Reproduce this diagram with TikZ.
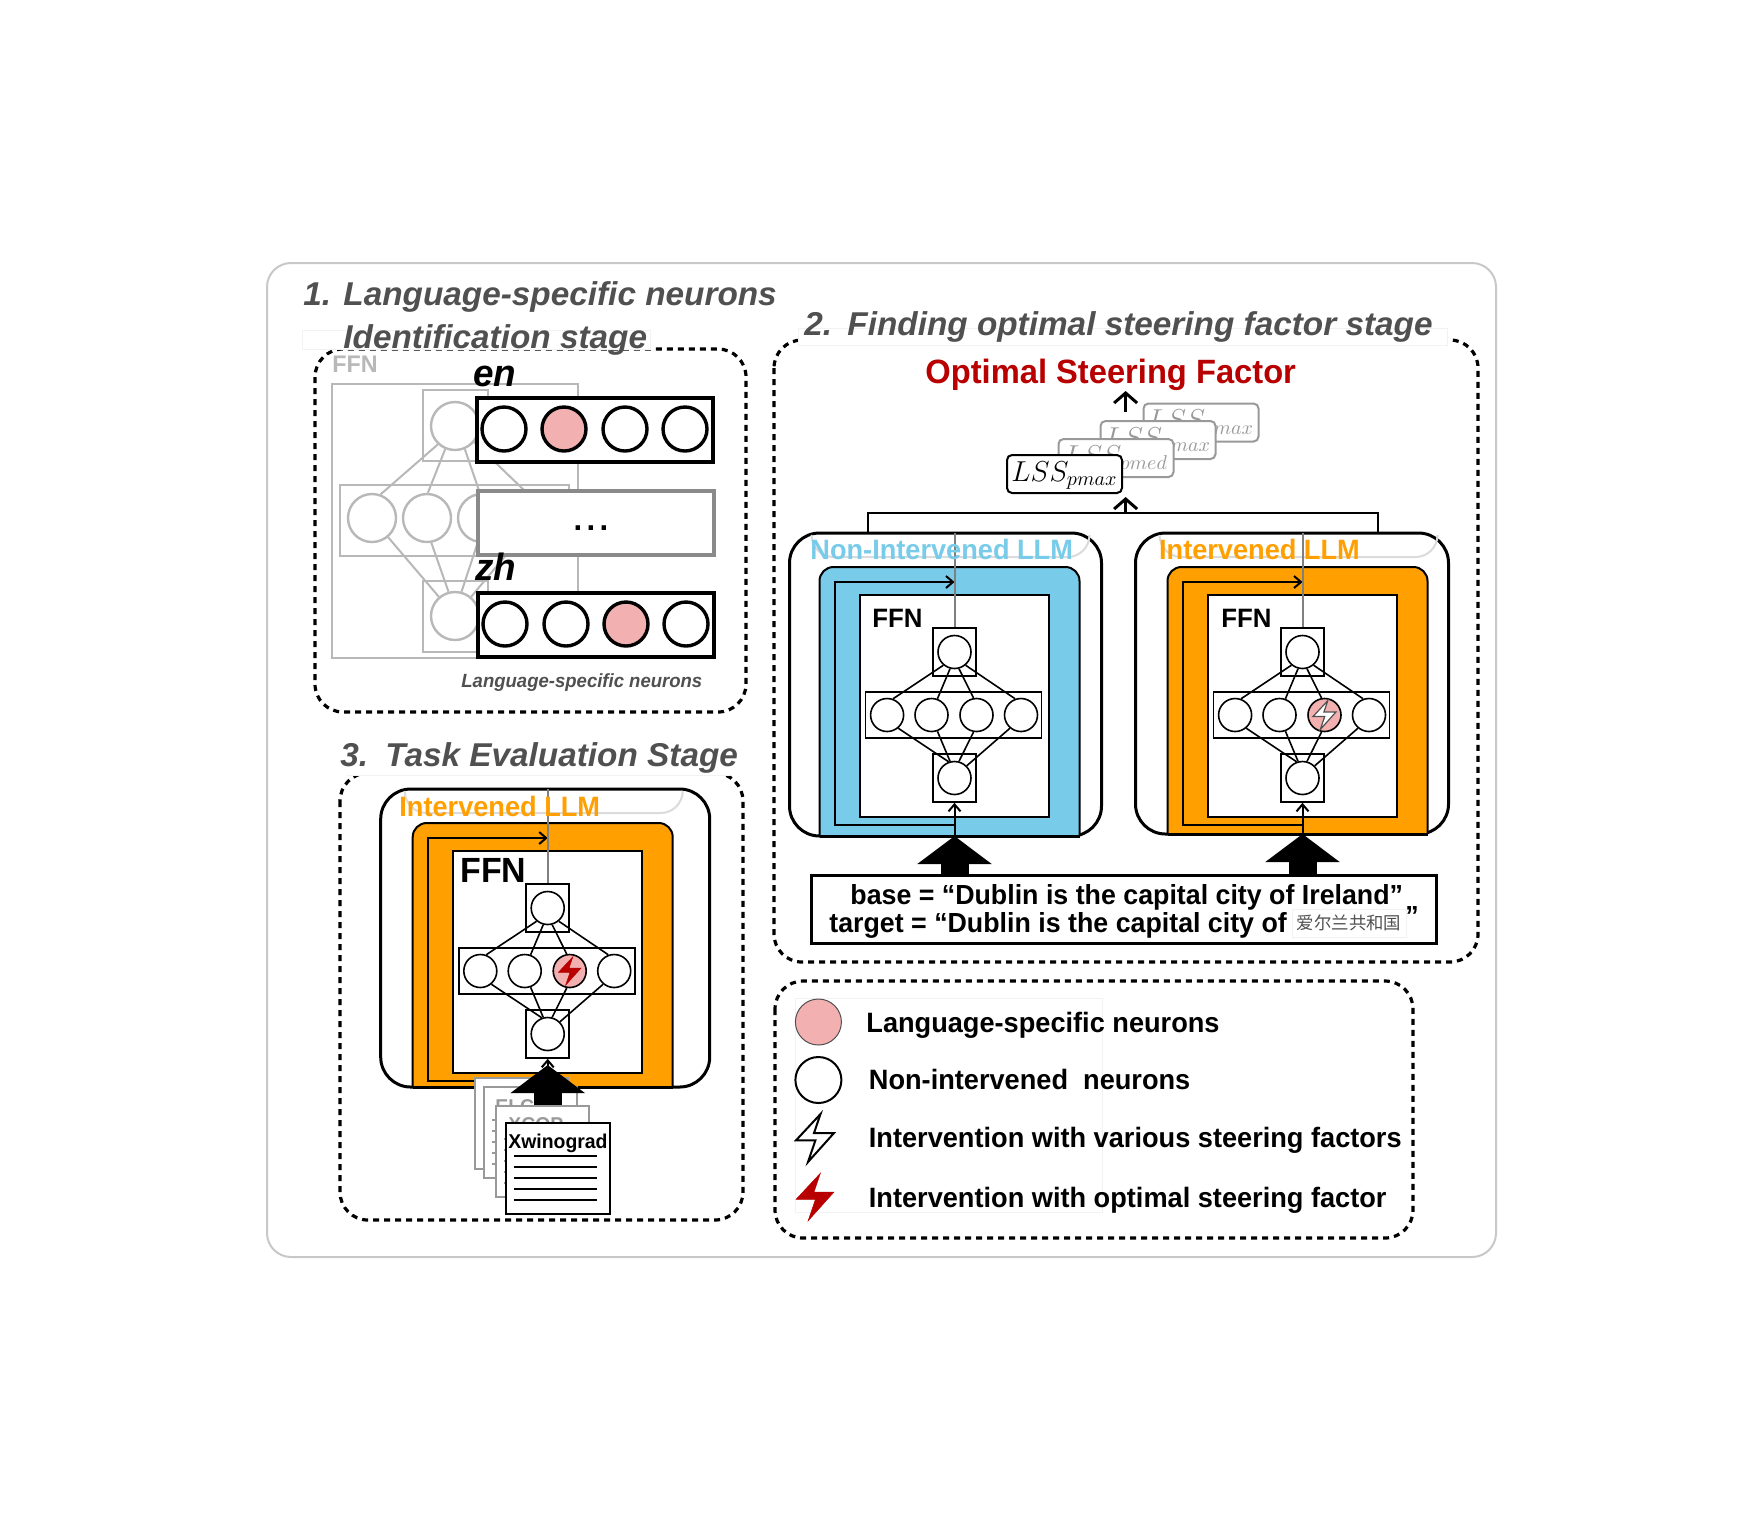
\documentclass[tikz,border=0pt]{standalone}
\usepackage{fontspec}
\setmainfont{Liberation Sans}[FakeStretch=0.97]
\newfontfamily\titleface{Liberation Sans}[FakeStretch=1.01]
\newfontfamily\cjkface{Noto Sans CJK SC}
\usepackage{tikz}
\usetikzlibrary{arrows.meta}

\definecolor{titlegray}{HTML}{505050}
\definecolor{framegray}{HTML}{C8C8C8}
\definecolor{fadegray}{HTML}{B8B8B8}
\definecolor{faintgray}{HTML}{F2F2F2}
\definecolor{lssgray}{HTML}{999999}
\definecolor{pinkfill}{HTML}{F3B0B0}
\definecolor{llmblue}{HTML}{78CBE9}
\definecolor{llmorange}{HTML}{FFA000}
\definecolor{boltred}{HTML}{B80000}

\newcommand{\pxfont}[1]{\fontsize{#1}{#1}\selectfont}

\tikzset{
  stagebox/.style={draw,dash pattern=on 3pt off 2.5pt,line width=1.6pt,rounded corners=14pt},
  faintbox/.style={draw=faintgray,fill=white,line width=.4pt},
  label base/.style={anchor=base west,inner sep=0pt},
  stagetitle/.style={label base,text=titlegray,font=\titleface\bfseries\itshape\pxfont{16.5}},
  boldtext/.style={label base,font=\bfseries\pxfont{14}},
  prompttext/.style={label base,font=\bfseries\pxfont{13.8}},
  neuron/.style={circle,draw,fill=white,inner sep=0pt,minimum size=16.5pt,line width=.8pt},
  bigneuron/.style={circle,draw,fill=white,inner sep=0pt,minimum size=22pt,line width=1.7pt},
  fadeneuron/.style={circle,draw=fadegray,fill=white,inner sep=0pt,minimum size=24pt,line width=1.2pt},
  netbox/.style={draw,fill=white,inner sep=0pt,line width=.8pt},
  fadebox/.style={draw=fadegray,fill=white,inner sep=0pt,line width=1.2pt},
  rowbox/.style={draw,fill=white,inner sep=0pt,minimum width=118pt,minimum height=32pt,line width=2pt},
  thinarrow/.style={-{Straight Barb[length=3.5pt,width=6pt]},line width=1pt},
  uparrow/.style={-{Straight Barb[length=5pt,width=11.5pt]},line width=1.5pt},
  bigarrow/.style={-{Triangle[width=36.5pt,length=14pt]},line width=14pt},
  lssbox/.style={draw,fill=white,rounded corners=2.5pt,inner sep=0pt,minimum width=57.5pt,minimum height=19pt,line width=1pt,font=\Large,text height=10.5pt,text depth=3.2pt},
  fadelss/.style={lssbox,draw=lssgray,text=lssgray},
  docsheet/.style={draw,fill=white,inner sep=0pt,minimum height=45.5pt,anchor=north west,line width=1pt}
}

% name, centre x, top y, block colour, outer left, outer right, bottom, third neuron fill
\newcommand{\llmblock}[8]{%
  \begin{scope}[shift={(#2,#3)}]
    \draw[line width=1.5pt,rounded corners=15pt,fill=white] (#5,0) rectangle (#6,#7);
    \draw[faintgray!80!gray,line width=1pt,rounded corners=11pt] (-143,3) -- (-143,24) -- (135,24) -- (135,3);
    \draw[fill=#4,line width=1pt,rounded corners=7pt] (-135,#7) -- (-135,34) -- (125,34) -- (125,#7);
    \draw[line width=1.5pt] (-135,#7) -- (125,#7);
    \coordinate (#1 top) at (0,0);
    \coordinate (#1 in) at (0,292);
    \coordinate (#1 out) at (0,49);
    \coordinate (#1 bot) at (0,#7);
    \draw[thinarrow] (#1 in) -- (-120,292) -- (-120,49) -- (#1 out);
    \node[netbox,line width=1pt,minimum width=94.5pt,minimum height=111pt] (#1 ffn) at (-.5,173) {};
    \node[netbox,minimum width=21.5pt,minimum height=24pt] (#1 upbox) at (0,119) {};
    \node[netbox,minimum width=88pt,minimum height=23pt] (#1 midbox) at (-1,182) {};
    \node[netbox,minimum width=21.5pt,minimum height=24pt] (#1 lowbox) at (0,245) {};
    \node[neuron] (#1 up) at (0,119) {};
    \node[neuron] (#1 low) at (0,245) {};
    \node[neuron] (#1 n1) at (-67.4,182) {};
    \node[neuron] (#1 n2) at (-23,182) {};
    \node[neuron,fill=#8] (#1 n3) at (22,182) {};
    \node[neuron] (#1 n4) at (66.5,182) {};
    \foreach \i/\ua/\na/\nb/\lb in {1/-130/70/-50/110,2/-105/70/-70/105,3/-75/100/-100/75,4/-50/110/-130/45} {
      \path[line width=.8pt] (#1 up.\ua) edge (#1 n\i.\na) (#1 n\i.\nb) edge (#1 low.\lb);
    }
    \draw[line width=1pt,draw=gray] (#1 top) -- (#1 upbox.north);
    \draw[thinarrow] (#1 bot) -- (#1 lowbox.south);
  \end{scope}
}

\newcommand{\boltmark}[3]{%
  \draw[#1,shift={#2},scale=#3] (5.5,-24) -- (-19,2.3) -- (.4,2.3) -- (-7,24) -- (19,-5) -- (-1,-5) -- cycle;
}

\begin{document}
\begin{tikzpicture}[x=.5pt,y=-.5pt]
  \path[fill=white,use as bounding box] (0,0) rectangle (1764,1528);

  \draw[framegray,line width=1pt,rounded corners=12pt] (267,263) rectangle (1496,1257);

  % stage 1
  \draw[stagebox] (315,349) rectangle (746,712);
  \draw[faintbox] (302,330) rectangle (650,349);
  \node[stagetitle] (titleone) at (303,305) {1.};
  \node[stagetitle] (titleonea) at (343,305) {Language-specific neurons};
  \node[stagetitle] (titleoneb) at (343,348) {Identification stage};
  \node[label base,text=fadegray,font=\bfseries\pxfont{12}] (fadeffn) at (332,372) {FFN};
  \draw[fadegray,line width=1.2pt] (332,384) rectangle (578,658);
  \node[fadebox,minimum width=32.5pt,minimum height=35.5pt] (fadeupbox) at (455.5,425.5) {};
  \node[fadebox,minimum width=114.5pt,minimum height=35.5pt] (fademidbox) at (454.5,520.5) {};
  \node[fadebox,minimum width=32.5pt,minimum height=35.5pt] (fadelowbox) at (455.5,616.5) {};
  \node[fadeneuron] (fadeup) at (455,426) {};
  \node[fadeneuron] (fadelow) at (455,616) {};
  \node[fadeneuron] (fade1) at (372,518) {};
  \node[fadeneuron] (fade2) at (427,518) {};
  \node[fadeneuron] (fade3) at (482,518) {};
  \node[fadeneuron] (fade4) at (537,518) {};
  \foreach \i/\ua/\na/\nb/\lb in {1/-133/70/-50/130,2/-113/88/-80/105,3/-67/95/-100/75,4/-40/110/-130/50} {
    \path[fadegray,line width=1pt] (fadeup.\ua) edge (fade\i.\na) (fade\i.\nb) edge (fadelow.\lb);
  }
  \node[rowbox] (enrow) at (595,429.5) {};
  \node[bigneuron] (en1) at (504,429) {};
  \node[bigneuron,fill=pinkfill] (en2) at (564,429) {};
  \node[bigneuron] (en3) at (625,429) {};
  \node[bigneuron] (en4) at (685,429) {};
  \node[rowbox,draw=lssgray!90!black] (dotrow) at (595.5,523) {};
  \node[anchor=base,inner sep=0pt,font=\bfseries\pxfont{16}] (dots) at (591,530) {.\hspace{2.2pt}.\hspace{2.2pt}.};
  \node[rowbox] (zhrow) at (596,624.5) {};
  \node[bigneuron] (zh1) at (505,624) {};
  \node[bigneuron] (zh2) at (566,624) {};
  \node[bigneuron,fill=pinkfill] (zh3) at (626,624) {};
  \node[bigneuron] (zh4) at (686,624) {};
  \node[label base,font=\bfseries\itshape\pxfont{19}] (enlabel) at (473,386) {en};
  \node[label base,font=\bfseries\itshape\pxfont{19}] (zhlabel) at (475,580) {zh};
  \node[label base,text=titlegray,font=\itshape\bfseries\pxfont{9.55}] (langcaption) at (461,687) {Language-specific neurons};

  % stage 2
  \draw[stagebox] (774,340) rectangle (1478,962);
  \draw[faintbox] (798,328) rectangle (1447,345);
  \node[stagetitle] (titletwo) at (804,335) {2.};
  \node[stagetitle] (titletwoa) at (847,335) {Finding optimal steering factor stage};
  \node[boldtext,text=boltred,font=\bfseries\pxfont{16.85}] (optimal) at (925,383) {Optimal Steering Factor};
  \node[fadelss] (lssa) at (1201,422.5) {$LSS_{pmax}$};
  \node[fadelss] (lssb) at (1158,440) {$LSS_{pmax}$};
  \node[fadelss] (lssc) at (1116,458) {$LSS_{pmed}$};
  \node[lssbox] (lssd) at (1064.5,474) {$LSS_{pmax}$};
  \coordinate (lssfrom) at (1125.6,412);
  \coordinate (lssto) at (1125.6,391);
  \draw[uparrow] (lssfrom) -- (lssto);
  \coordinate (joinleft) at (868,533);
  \coordinate (joinright) at (1378,533);
  \coordinate (joinmid) at (1125.6,513);
  \coordinate (jointip) at (1125.6,497);
  \draw[line width=1pt] (joinleft) |- (joinmid) -| (joinright);
  \draw[uparrow] (joinmid) -- (jointip);

  \llmblock{plain}{954.5}{533}{llmblue}{-165}{147}{303}{white}
  \node[boldtext,text=llmblue] (plainlabel) at (810,559) {Non-Intervened LLM};
  \node[boldtext,font=\bfseries\pxfont{13.3}] (plainffn) at (872,627) {FFN};
  \llmblock{steer}{1302.5}{533}{llmorange}{-167}{146}{301}{pinkfill}
  \boltmark{draw=titlegray,fill=white,line width=.6pt}{(steer n3)}{.6}
  \node[boldtext,text=llmorange] (steerlabel) at (1158.7,559) {Intervened LLM};
  \node[boldtext,font=\bfseries\pxfont{13.3}] (steerffn) at (1221,627) {FFN};

  \node[draw,fill=white,inner sep=0pt,minimum width=312.5pt,minimum height=34pt,line width=1.5pt] (promptbox) at (1124,909) {};
  \draw[bigarrow] (plain bot |- promptbox.north) -- (plain bot);
  \draw[bigarrow] (steer bot |- promptbox.north) -- (steer bot);
  \node[prompttext] (promptbase) at (850,904) {base = “Dublin is the capital city of Ireland”};
  \node[prompttext] (prompttarget) at (829,932) {target = “Dublin is the capital city of};
  \node[faintbox,minimum width=57pt,minimum height=14pt,inner sep=0pt,font=\cjkface\pxfont{8.7},text=titlegray] (promptzh) at (1349,923) {爱尔兰共和国};
  \node[prompttext] (promptend) at (1405,925) {”};

  % stage 3
  \draw[stagebox] (340,773) rectangle (743,1220);
  \fill[white] (347,748) rectangle (730,775);
  \draw[faintgray,line width=.4pt] (347,775) -- (730,775);
  \node[stagetitle] (titlethree) at (340,766) {3.};
  \node[stagetitle] (titlethreea) at (385,766) {Task Evaluation Stage};
  \llmblock{task}{547.7}{789}{llmorange}{-167}{162}{298}{pinkfill}
  \boltmark{fill=boltred,draw=boltred,line width=.2pt}{(task n3)}{.6}
  \node[boldtext,text=llmorange] (tasklabel) at (399,816) {Intervened LLM};
  \node[boldtext,font=\bfseries\pxfont{17.5}] (taskffn) at (460,882) {FFN};

  \coordinate (evaltip) at (547.7,1065);
  \coordinate (evalbase) at (547.7,1110);
  \node[docsheet,minimum width=46.5pt,draw=lssgray] (docone) at (474,1077) {};
  \foreach \lineoff in {34,45,56,67,78} {
    \draw[lssgray,line width=1pt] (483,1077+\lineoff) -- (557,1077+\lineoff);
  }
  \foreach \name/\docx/\docy/\docw/\docname/\textx/\texty/\doccol in {doctwo/483/1086/46.5/ELCO/12/27/lssgray} {
    \node[docsheet,minimum width=\docw pt,draw=\doccol] (\name) at (\docx,\docy) {};
    \node[label base,text=\doccol,font=\bfseries\pxfont{10}] (\name text) at (\docx+\textx,\docy+\texty) {\docname};
    \foreach \lineoff in {34,45,56,67,78} {
      \draw[\doccol,line width=1pt] (\docx+9,\docy+\lineoff) -- (\docx+83,\docy+\lineoff);
    }
  }
  \draw[bigarrow] (evalbase) -- (evaltip);
  \foreach \name/\docx/\docy/\docw/\docname/\textx/\texty/\doccol in {docthree/495/1105/46.5/XCOP/13/26/lssgray,docfour/505/1122/52/Xwinograd/3/26/black} {
    \node[docsheet,minimum width=\docw pt,draw=\doccol] (\name) at (\docx,\docy) {};
    \node[label base,text=\doccol,font=\bfseries\pxfont{10}] (\name text) at (\docx+\textx,\docy+\texty) {\docname};
    \foreach \lineoff in {34,45,56,67,78} {
      \draw[\doccol,line width=1pt] (\docx+9,\docy+\lineoff) -- (\docx+92,\docy+\lineoff);
    }
  }

  % legend
  \draw[stagebox] (775,981) rectangle (1413,1238);
  \draw[faintbox] (795,998) rectangle (1102,1212);
  \node[circle,draw=titlegray,fill=pinkfill,inner sep=0pt,minimum size=23pt,line width=.5pt] (keypink) at (818.4,1022) {};
  \node[circle,draw,fill=white,inner sep=0pt,minimum size=23pt,line width=1pt] (keyplain) at (818.4,1080) {};
  \boltmark{draw=black,fill=white,line width=1pt}{(815,1138)}{1}
  \boltmark{draw=boltred,fill=boltred,line width=.2pt}{(815,1197)}{1}
  \node[boldtext] (keypinktext) at (866,1032) {Language-specific neurons};
  \node[boldtext] (keyplaintext) at (868.5,1089) {Non-intervened\ \ neurons};
  \node[boldtext] (keyvarious) at (868.5,1147) {Intervention with various steering factors};
  \node[boldtext] (keyoptimal) at (868.5,1207) {Intervention with optimal steering factor};
\end{tikzpicture}
\end{document}
